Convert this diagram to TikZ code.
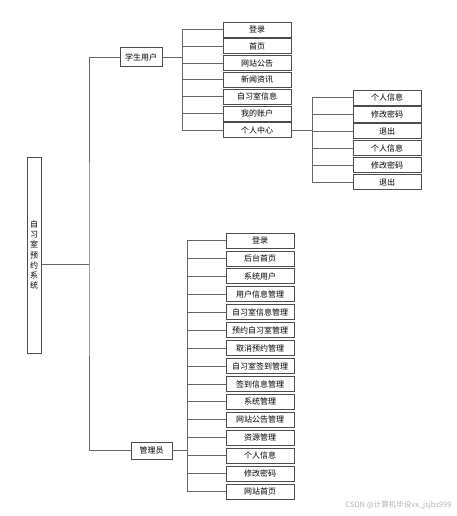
\documentclass[tikz,border=0pt]{standalone}
\usepackage{fontspec}
\newfontfamily\cjk{Noto Sans CJK SC}
\usepackage{tikz}
\usetikzlibrary{positioning}

\begin{document}
\begin{tikzpicture}[
  x=1pt, y=-1pt,
  font=\cjk\fontsize{8}{9}\selectfont,
  box/.style={draw=black!70, line width=0.8pt, fill=white,
              minimum width=68pt, minimum height=15pt, inner sep=0pt},
  link/.style={draw=black!60, line width=0.8pt}
]
  \useasboundingbox (0,0) rectangle (457,516);

  \node[box, minimum width=14pt, minimum height=196pt, align=center,
        font=\cjk\fontsize{8}{10.3}\selectfont] (root) at (34,255)
        {自\\习\\室\\预\\约\\系\\统};
  \node[box, minimum width=42pt, minimum height=19pt] (stu) at (141,57) {学生用户};
  \node[box, minimum width=41pt, minimum height=17pt] (adm) at (151.5,450.5) {管理员};

  % student pages
  \foreach \t [count=\i] in {登录,首页,网站公告,新闻资讯,自习室信息,我的账户,个人中心}
    \node[box] (s\i) at (257,{29.5+16.8*(\i-1)}) {\t};
  % personal centre
  \foreach \t [count=\i] in {个人信息,修改密码,退出,个人信息,修改密码,退出}
    \node[box] (p\i) at (387,{97.5+16.9*(\i-1)}) {\t};
  % admin pages
  \foreach \t [count=\i] in {登录,后台首页,系统用户,用户信息管理,自习室信息管理,
      预约自习室管理,取消预约管理,自习室签到管理,签到信息管理,系统管理,
      网站公告管理,资源管理,个人信息,修改密码,网站首页}
    \node[box] (a\i) at (260,{240.5+17.93*(\i-1)}) {\t};

  % main trunk
  \coordinate (rt) at (89,264);
  \draw[link] (rt -| root.east) -- (rt);
  \draw[link] (stu.west) -| (rt) |- (adm.west);

  % student bus
  \path (stu.east) ++(20,0) coordinate (sbus);
  \draw[link] (stu.east) -- (sbus);
  \foreach \i in {1,...,7}
    \draw[link] (sbus) |- (s\i.west);

  % personal centre bus
  \path (s7.east) ++(21,0) coordinate (pbus);
  \draw[link] (s7.east) -- (pbus);
  \foreach \i in {1,...,6}
    \draw[link] (pbus) |- (p\i.west);

  % admin bus
  \path (adm.east) ++(15,0) coordinate (abus);
  \draw[link] (adm.east) -- (abus);
  \foreach \i in {1,...,15}
    \draw[link] (abus) |- (a\i.west);

  \node[anchor=east, text=black!30, font=\cjk\fontsize{7.5}{8}\selectfont]
        (mark) at (455,505) {CSDN @计算机毕设vx\_jsjbs999};
\end{tikzpicture}
\end{document}
